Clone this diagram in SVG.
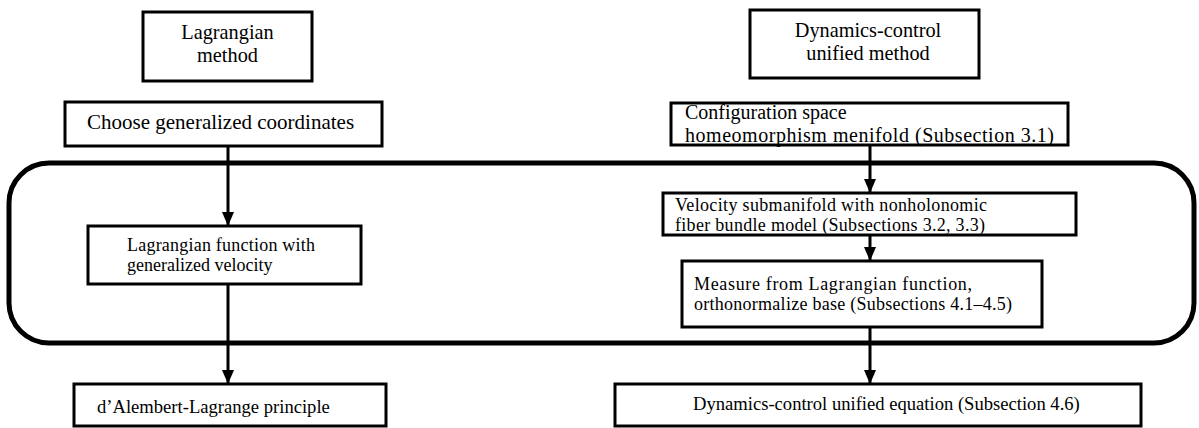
<svg xmlns="http://www.w3.org/2000/svg" width="1199" height="428" viewBox="0 0 1199 428">
  <style>
    .box { fill: #ffffff; stroke: #000000; stroke-width: 3; }
    .frame { fill: none; stroke: #000000; stroke-width: 5; }
    .conn { fill: none; stroke: #000000; stroke-width: 3; }
    text { font-family: "Liberation Serif", "Times New Roman", serif; fill: #000000; }
    .big { font-size: 21px; }
    .head { font-size: 20.3px; }
    .cfg { font-size: 20px; }
    .small { font-size: 18.6px; }
    .two { font-size: 18px; }
    .mid { text-anchor: middle; }
  </style>
  <defs>
    <marker id="arrow" markerUnits="userSpaceOnUse" markerWidth="14" markerHeight="12" refX="14" refY="6" orient="auto">
      <path d="M0,0 L14,6 L0,12 Z" fill="#000000"/>
    </marker>
  </defs>
  <rect x="0" y="0" width="1199" height="428" fill="#ffffff"/>

  <g id="frame">
    <rect class="frame" x="9" y="163" width="1185" height="180" rx="40" ry="40"/>
  </g>

  <g id="connectors">
    <line class="conn" x1="228" y1="146" x2="228" y2="226" marker-end="url(#arrow)"/>
    <line class="conn" x1="228" y1="284" x2="228" y2="384" marker-end="url(#arrow)"/>
    <line class="conn" x1="870" y1="145" x2="870" y2="193" marker-end="url(#arrow)"/>
    <line class="conn" x1="870" y1="235" x2="870" y2="261" marker-end="url(#arrow)"/>
    <line class="conn" x1="870" y1="327" x2="870" y2="384" marker-end="url(#arrow)"/>
  </g>

  <g id="lagrangian-method">
    <rect class="box" x="143" y="12" width="169" height="69"/>
    <text class="head mid" x="227.5" y="38.5">Lagrangian</text>
    <text class="head mid" x="227.5" y="61.5">method</text>
  </g>

  <g id="choose-coordinates">
    <rect class="box" x="65" y="102" width="317" height="44"/>
    <text class="big" x="87" y="129">Choose generalized coordinates</text>
  </g>

  <g id="lagrangian-function">
    <rect class="box" x="88" y="226" width="273" height="58"/>
    <text class="two" x="127" y="251" textLength="188" lengthAdjust="spacing">Lagrangian function with</text>
    <text class="two" x="127" y="271">generalized velocity</text>
  </g>

  <g id="dalembert">
    <rect class="box" x="74" y="384" width="312" height="42"/>
    <text class="small" x="97" y="413">d’Alembert-Lagrange principle</text>
  </g>

  <g id="dynamics-control-method">
    <rect class="box" x="750" y="10" width="229" height="68"/>
    <text class="head mid" x="868" y="36.5">Dynamics-control</text>
    <text class="head mid" x="868" y="59.5">unified method</text>
  </g>

  <g id="configuration-space">
    <rect class="box" x="671" y="103" width="397" height="42"/>
    <text class="cfg" x="685" y="119">Configuration space</text>
    <text class="cfg" x="685" y="141.5" textLength="369" lengthAdjust="spacing">homeomorphism menifold (Subsection 3.1)</text>
  </g>

  <g id="velocity-submanifold">
    <rect class="box" x="663" y="193" width="413" height="42"/>
    <text class="two" x="675" y="211" textLength="312" lengthAdjust="spacing">Velocity submanifold with nonholonomic</text>
    <text class="two" x="675" y="231" textLength="310" lengthAdjust="spacing">fiber bundle model (Subsections 3.2, 3.3)</text>
  </g>

  <g id="measure">
    <rect class="box" x="682" y="261" width="360" height="66"/>
    <text class="two" x="694" y="290" textLength="278" lengthAdjust="spacing">Measure from Lagrangian function,</text>
    <text class="two" x="694" y="310" textLength="318" lengthAdjust="spacing">orthonormalize base (Subsections 4.1–4.5)</text>
  </g>

  <g id="unified-equation">
    <rect class="box" x="615" y="384" width="526" height="42"/>
    <text class="small" x="693" y="410">Dynamics-control unified equation (Subsection 4.6)</text>
  </g>
</svg>
